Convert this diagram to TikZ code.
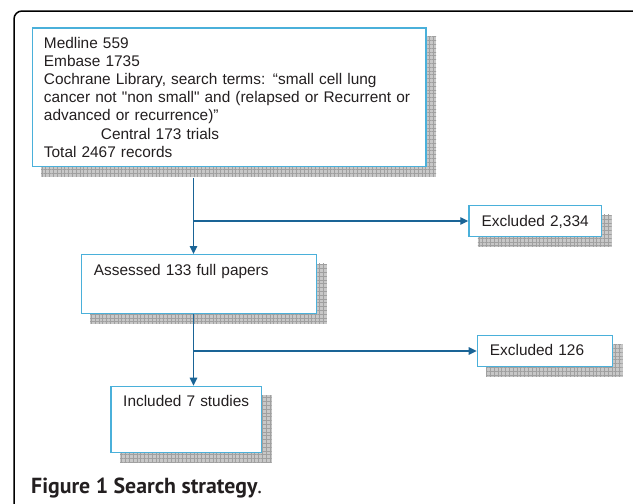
\documentclass[tikz,border=0pt]{standalone}
\usepackage{fontspec}
\newfontfamily\boxfont{Liberation Sans}
\newfontfamily\capfont{PT Sans}
\usetikzlibrary{arrows.meta, positioning, calc, backgrounds, patterns.meta}
\definecolor{boxblue}{RGB}{74,176,218}
\definecolor{arrowblue}{RGB}{26,100,150}
\definecolor{shadowgray}{RGB}{200,200,200}
\definecolor{gridgray}{RGB}{160,160,160}
\definecolor{inkgray}{RGB}{35,31,32}

\begin{document}
\begin{tikzpicture}
	[
	x=1pt, y=-1pt,
	box/.style={draw=boxblue, line width=1.3pt, fill=white, anchor=north west, inner ysep=0pt, inner xsep=12.6pt, text=inkgray, font=\boxfont\fontsize{15.4}{18.2}\selectfont},
	conn/.style={draw=arrowblue, line width=1.3pt, -{Triangle[length=8pt,width=7.5pt]}},
	shadowgrid/.style={fill=shadowgray,
		postaction={pattern={Lines[angle=0,distance=3.8pt,line width=.3pt]}, pattern color=gridgray},
		postaction={pattern={Lines[angle=90,distance=3.8pt,line width=.3pt]}, pattern color=gridgray}}
	]
	\useasboundingbox (0,0) rectangle (633,504);
	\clip (0,0) rectangle (633,504);
	\draw [line width=1.5pt, rounded corners=8pt] (14,11) rectangle (650,520);

	\node (src) [box, inner xsep=11.6pt, text width=370.4pt, minimum height=138.4pt, align=left] at (31.7,27.3)
		{Medline 559\\
		Embase 1735\\
		Cochrane Library, search terms: “small cell lung\\
		cancer not "non small" and (relapsed or Recurrent or\\
		advanced or recurrence)”\\
		\hspace*{57pt}Central 173 trials\\
		Total 2467 records};
	\node (ass) [box, text width=210.1pt, text height=21pt, text depth=37.7pt, align=left] at (80.7,254) {Assessed 133 full papers};
	\node (inc) [box, inner xsep=4pt, text width=142.4pt, text height=20.3pt, text depth=45.7pt, align=center] at (110.3,385.7) {Included 7 studies};
	\node (exa) [box, inner xsep=4pt, text width=124.4pt, text height=21pt, text depth=9.7pt, align=center] at (468.3,205) {Excluded 2,334};
	\node (exb) [box, text width=109.8pt, text height=20pt, text depth=10.7pt, align=left] at (476.7,335) {Excluded 126};

	% grid shadows behind the boxes
	\begin{scope}[on background layer]
	\foreach \b in {src,ass,inc,exa,exb}
		\path [shadowgrid] ($(\b.south west)+(9.5,9.5)$) rectangle ($(\b.north east)+(9.5,9.5)$);
	\end{scope}

	\coordinate (top) at (193.5,178);
	\draw [conn] (top) -- (top |- ass.north);
	\draw [conn] (top |- exa.west) -- (exa.west);
	\draw [conn] (top |- ass.south) -- (top |- inc.north);
	\draw [conn] (top |- exb.west) -- (exb.west);

	\node (cap) [anchor=base west, inner sep=0pt, text=inkgray, font=\capfont\fontsize{21.8}{26}\selectfont] at (31,493.3) {\textbf{Figure 1 Search strategy}.};
\end{tikzpicture}
\end{document}
